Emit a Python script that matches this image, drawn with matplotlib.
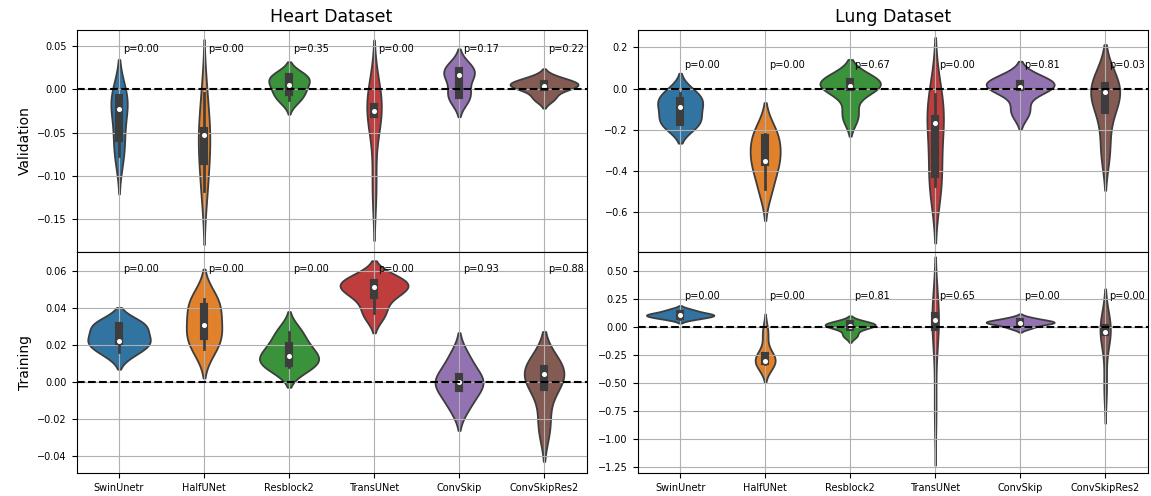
import numpy as np
import pandas as pd
import matplotlib
matplotlib.use("Agg")
import matplotlib.pyplot as plt
import seaborn as sns

models = ["SwinUnetr", "HalfUNet", "Resblock2", "TransUNet", "ConvSkip", "ConvSkipRes2"]

# per-fold score differences (5 folds) for every model
heart_val = [
    [-0.077, -0.0565, -0.023, -0.0095, -0.0095],
    [-0.118, -0.0825, -0.053, -0.0485, -0.004],
    [-0.012, -0.003, 0.0054, 0.0143, 0.015],
    [-0.113, -0.028, -0.0254, -0.0204, -0.005],
    [-0.009, -0.0065, 0.016, 0.021, 0.024],
    [-0.010, 0.003, 0.0035, 0.0065, 0.012],
]
heart_train = [
    [0.016, 0.0218, 0.0223, 0.0304, 0.031],
    [0.018, 0.0248, 0.0308, 0.0404, 0.045],
    [0.008, 0.0104, 0.014, 0.0191, 0.027],
    [0.037, 0.047, 0.0514, 0.0537, 0.055],
    [-0.0128, -0.0034, 0.0, 0.0027, 0.013],
    [-0.024, -0.0029, 0.004, 0.0069, 0.008],
]
lung_val = [
    [-0.17, -0.1615, -0.09, -0.058, -0.02],
    [-0.485, -0.3545, -0.353, -0.2385, -0.222],
    [-0.13, 0.01, 0.013, 0.03, 0.04],
    [-0.474, -0.4115, -0.168, -0.1465, -0.027],
    [-0.11, 0.006, 0.01, 0.02, 0.045],
    [-0.3, -0.1015, -0.018, 0.0115, 0.02],
]
lung_train = [
    [0.075, 0.095, 0.11, 0.115, 0.15],
    [-0.33, -0.305, -0.30, -0.262, -0.05],
    [-0.075, 0.0, 0.012, 0.025, 0.035],
    [-0.72, 0.0, 0.066, 0.1, 0.11],
    [-0.005, 0.035, 0.039, 0.045, 0.075],
    [-0.53, -0.048, -0.045, -0.012, 0.01],
]

p_heart_val = [0.00, 0.00, 0.35, 0.00, 0.17, 0.22]
p_heart_train = [0.00, 0.00, 0.00, 0.00, 0.93, 0.88]
p_lung_val = [0.00, 0.00, 0.67, 0.00, 0.81, 0.03]
p_lung_train = [0.00, 0.00, 0.81, 0.65, 0.00, 0.00]


def long_form(samples):
    rows = []
    for m, vals in zip(models, samples):
        for v in vals:
            rows.append({"model": m, "diff": v})
    return pd.DataFrame(rows)


fig = plt.figure(figsize=(11.51, 4.96), dpi=100)
ax_hv = fig.add_axes([0.0665, 0.4919, 0.4431, 0.4476])
ax_ht = fig.add_axes([0.0665, 0.0458, 0.4431, 0.4462])
ax_lv = fig.add_axes([0.554, 0.4919, 0.4431, 0.4476])
ax_lt = fig.add_axes([0.554, 0.0458, 0.4431, 0.4462])

panels = [
    (ax_hv, heart_val, p_heart_val, 0.043, (-0.188, 0.0685), [-0.15, -0.10, -0.05, 0.0, 0.05]),
    (ax_ht, heart_train, p_heart_train, 0.0595, (-0.0496, 0.0703), [-0.04, -0.02, 0.0, 0.02, 0.04, 0.06]),
    (ax_lv, lung_val, p_lung_val, 0.10, (-0.792, 0.284), [-0.6, -0.4, -0.2, 0.0, 0.2]),
    (ax_lt, lung_train, p_lung_train, 0.249, (-1.306, 0.669),
     [-1.25, -1.0, -0.75, -0.5, -0.25, 0.0, 0.25, 0.5]),
]

for ax, samples, pvals, ptext_y, ylim, yticks in panels:
    df = long_form(samples)
    sns.violinplot(data=df, x="model", y="diff", hue="model", order=models,
                   hue_order=models, legend=False, linewidth=1.3,
                   common_norm=True, density_norm="area",
                   inner_kws=dict(marker="."), ax=ax)
    ax.axhline(0, color="black", linestyle="--", linewidth=1.5)
    for i, p in enumerate(pvals):
        ax.text(i + 0.05, ptext_y, "p=%.2f" % p, fontsize=7)
    ax.set_xlim(-0.5, 5.5)
    ax.set_ylim(*ylim)
    ax.set_yticks(yticks)
    ax.set_xlabel("")
    ax.set_ylabel("")
    ax.grid(True)
    ax.tick_params(labelsize=7)

for ax in (ax_hv, ax_lv):
    ax.tick_params(labelbottom=False)

ax_hv.set_ylabel("Validation", fontsize=10)
ax_ht.set_ylabel("Training", fontsize=10)
ax_hv.set_title("Heart Dataset", fontsize=12.5)
ax_lv.set_title("Lung Dataset", fontsize=12.5)

fig.savefig("out.png", dpi=100)
